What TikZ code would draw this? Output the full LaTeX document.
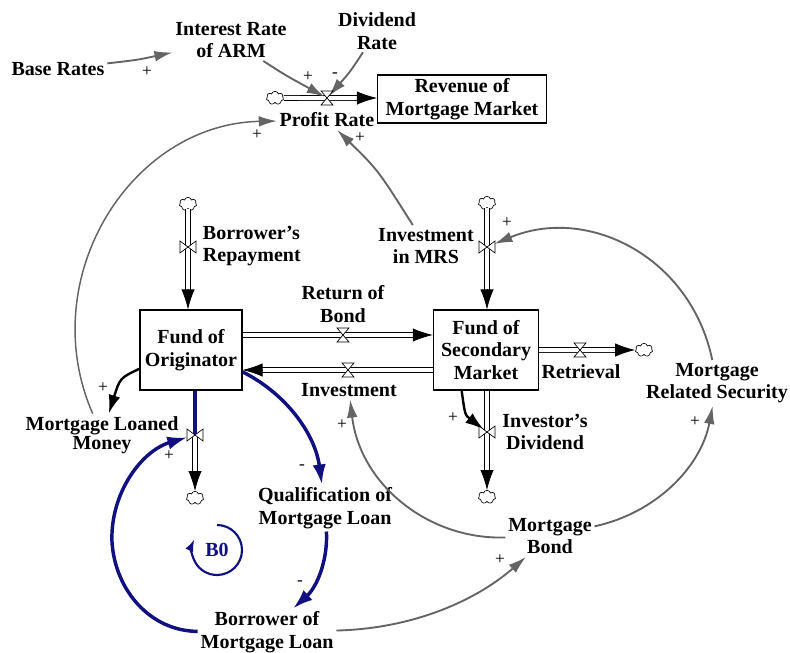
\documentclass[tikz,border=0pt]{standalone}
\usepackage{fontspec}
\setmainfont{Liberation Serif}
\usetikzlibrary{arrows.meta,shapes.symbols,calc}
\definecolor{lgray}{RGB}{100,100,100}
\definecolor{navyb}{RGB}{16,16,128}
\newcommand\flowpipe[2]{\draw[pipe, shorten >=14pt] (#1) -- (#2); \draw[ptip] ($(#2)!15pt!(#1)$) -- (#2);}
\begin{document}
\begin{tikzpicture}[x=0.75pt,y=-0.75pt,
  lbl/.style={font=\bfseries\fontsize{15}{17}\selectfont, align=center, inner sep=2pt},
  stock/.style={draw, line width=0.8pt, fill=white, font=\bfseries\fontsize{15}{17}\selectfont, align=center, inner sep=0pt},
  cld/.style={cloud, cloud puffs=7, aspect=1.4, draw, fill=white, line width=0.5pt, minimum width=13pt, minimum height=10pt, inner sep=0pt},
  pipe/.style={double, double distance=3pt, line width=0.6pt},
  ptip/.style={line width=0.6pt, -{Latex[length=15pt,width=10pt]}},
  glink/.style={draw=lgray, line width=1.4pt, -{Latex[length=13.5pt,width=8pt]}},
  blink/.style={draw=navyb, line width=2.6pt, -{Latex[length=15pt,width=10pt]}},
  klink/.style={draw=black, line width=1.8pt, -{Latex[length=14pt,width=9pt]}},
  sgn/.style={font=\fontsize{13}{13}\selectfont, inner sep=0pt},
  valveh/.pic={\draw[fill=white, line width=0.5pt] (-6,-7)--(6,-7)--(-6,7)--(6,7)--cycle;},
  valvev/.pic={\draw[fill=white, line width=0.5pt] (-8,-6)--(-8,6)--(8,-6)--(8,6)--cycle;}
]
\fill[white] (0,0) rectangle (790,653);
\useasboundingbox (0,0) rectangle (790,653);

% labels
\node[lbl] (base) at (58,69) {Base Rates};
\node[lbl] (irarm) at (231,40) {Interest Rate\\of ARM};
\node[lbl] (div) at (377,31) {Dividend\\Rate};
\node[lbl] (profit) at (327,120) {Profit Rate};
\node[stock, minimum width=126.75pt, minimum height=36pt] (rev) at (462,99) {Revenue of\\Mortgage Market};
\node[lbl, anchor=west, align=left] (brep) at (200,246) {Borrower's\\Repayment};
\node[lbl] (inmrs) at (426,246) {Investment\\in MRS};
\node[lbl] (rob) at (343,304) {Return of\\Bond};
\node[stock, minimum width=76.5pt, minimum height=60pt] (fo) at (191,350) {Fund of\\Originator};
\node[stock, minimum width=79pt, minimum height=60pt] (fs) at (486,350) {Fund of\\Secondary\\Market};
\node[lbl] (invl) at (349,390) {Investment};
\node[lbl] (retl) at (581,372) {Retrieval};
\node[lbl] (mrs) at (717,383) {Mortgage\\Related Security};
\node[lbl] (idl) at (545,432) {Investor's\\Dividend};
\node[lbl, font=\bfseries\fontsize{15}{14}\selectfont] (mlm) at (102,435) {Mortgage Loaned\\Money};
\node[lbl] (qual) at (325,508) {Qualification of\\Mortgage Loan};
\node[lbl] (mb) at (550,536) {Mortgage\\Bond};
\node[lbl] (bml) at (267,632) {Borrower of\\Mortgage Loan};
\node[lbl, text=navyb] (b0) at (217,550) {B0};

% clouds and valve positions
\node[cld] (c1) at (275,98) {};
\coordinate (v1) at (327,98);
\node[cld] (c2) at (188,204) {};
\coordinate (v2) at (188,247);
\coordinate (rb) at (343,335);
\coordinate (iv) at (348,370);
\node[cld] (c3) at (487,203) {};
\coordinate (vm) at (487,247);
\coordinate (rv) at (580,350);
\node[cld] (c4) at (644,350) {};
\coordinate (vd) at (487,432);
\node[cld] (c5) at (487,497) {};
\coordinate (vo) at (195,435);
\node[cld] (c6) at (195,498) {};

\coordinate (p1e) at (rev.west |- v1);
\coordinate (p2e) at (c2 |- fo.north);
\coordinate (p3s) at (fo.east |- rb);
\coordinate (p3e) at (fs.west |- rb);
\coordinate (p4s) at (fs.west |- iv);
\coordinate (p4e) at (fo.east |- iv);
\coordinate (p5e) at (c3 |- fs.north);
\coordinate (p6s) at (fs.east |- rv);
\coordinate (p6e) at (c4.west);
\coordinate (p7s) at (c5 |- fs.south);
\coordinate (p7e) at (c5.north);
\coordinate (p8s) at (vo |- fo.south);
\coordinate (p8e) at (c6.north);

% flows
\flowpipe{c1}{p1e}
\flowpipe{c2}{p2e}
\flowpipe{p3s}{p3e}
\flowpipe{p4s}{p4e}
\flowpipe{c3}{p5e}
\flowpipe{p6s}{p6e}
\flowpipe{p7s}{p7e}
\flowpipe{vo}{p8e}
\draw[navyb, line width=3pt] (p8s) -- (vo);

% causal links
\draw[glink] (base) .. controls (137,60) .. (irarm);
\draw[glink, shorten >=2pt] (irarm) .. controls (285,75) .. (v1);
\draw[glink, shorten >=2pt] (div) .. controls (350,72) .. (v1);
\draw[glink, line width=1.1pt] (mlm) .. controls (34,279) and (130,124) .. (profit);
\draw[glink] (inmrs) .. controls (378,170) .. (profit);
\draw[glink, shorten >=6pt] (mrs) .. controls (691,257) and (588,205) .. (vm);
\draw[glink] (mb) .. controls (428,540) and (360,484) .. (invl);
\draw[glink] (mb) .. controls (656,513) and (701,467) .. (mrs);
\draw[glink] (bml) .. controls (407,629) and (472,604) .. (mb);
\draw[klink] (fo.200) .. controls (120,378) .. (mlm);
\draw[klink, shorten >=3pt] (fs.239) .. controls (465,415) .. (vd);
\draw[blink] (fo.-23) .. controls (285,393) and (315,433) .. (qual);
\draw[blink] (qual) .. controls (328,558) and (318,586) .. (bml);
\draw[blink, shorten >=6pt] (bml) .. controls (150,631) and (115,590) .. (112,542) .. controls (110,494) and (141,451) .. (vo);
\draw[navyb, line width=1.6pt, -{Latex[length=9pt,width=6.5pt]}] (b0) ++(0,-25) arc[start angle=-90, end angle=205, radius=25];

% valves
\pic at (v1) {valveh};
\pic at (v2) {valvev};
\pic at (rb) {valveh};
\pic at (iv) {valveh};
\pic at (vm) {valvev};
\pic at (rv) {valveh};
\pic at (vd) {valvev};
\pic at (vo) {valvev};

% polarities
\node[sgn] (s1) at (147,72) {+};
\node[sgn] (s2) at (308,77) {+};
\node[sgn] (s3) at (335,75) {-};
\node[sgn] (s4) at (257,135) {+};
\node[sgn] (s5) at (360,138) {+};
\node[sgn] (s6) at (507,223) {+};
\node[sgn] (s7) at (103,388) {+};
\node[sgn] (s8) at (453,418) {+};
\node[sgn] (s9) at (342,425) {+};
\node[sgn] (s10) at (695,422) {+};
\node[sgn] (s11) at (500,560) {+};
\node[sgn] (s12) at (169,456) {+};
\node[sgn] (s13) at (302,467) {-};
\node[sgn] (s14) at (300,583) {-};
\end{tikzpicture}
\end{document}
